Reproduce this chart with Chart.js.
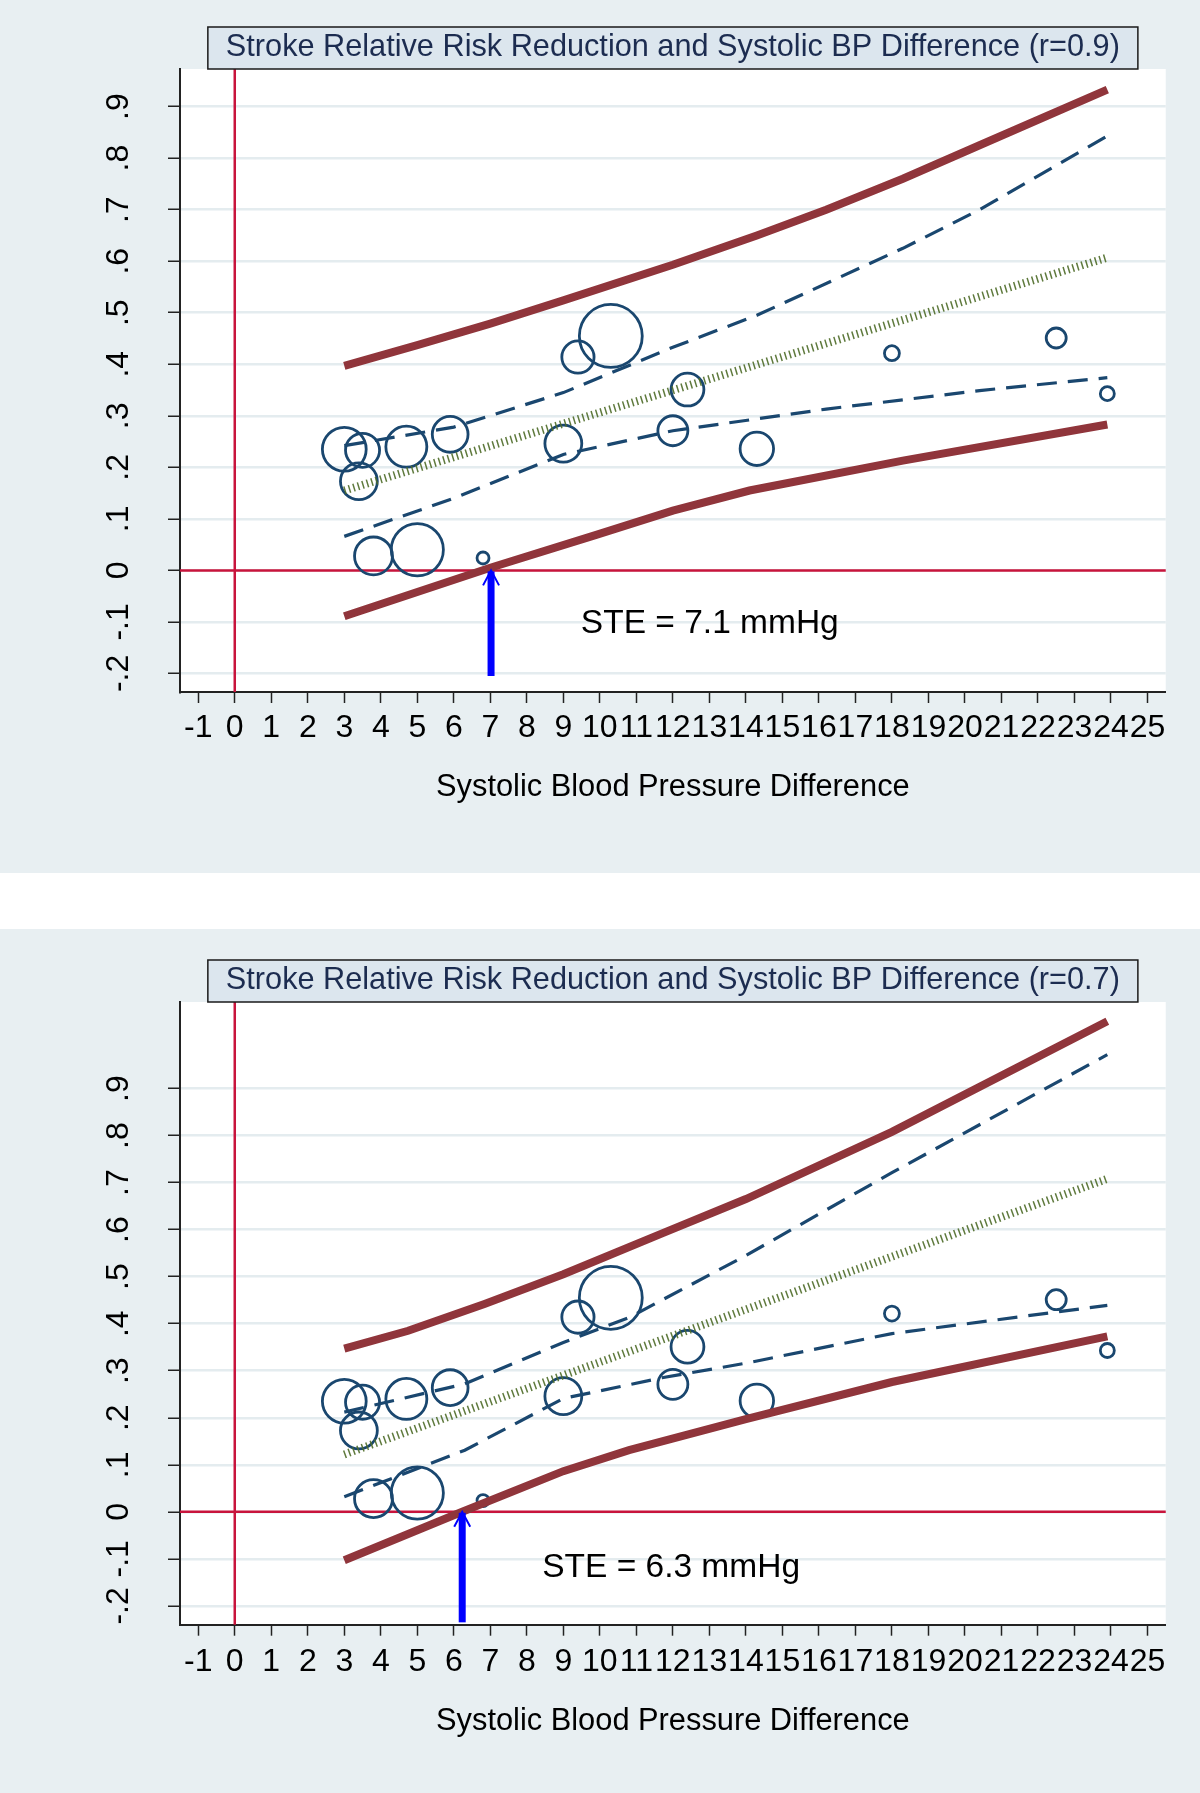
<!DOCTYPE html>
<html>
<head>
<meta charset="utf-8">
<script src="https://cdn.jsdelivr.net/npm/chart.js@4.4.1/dist/chart.umd.min.js"></script>
<style>
  html, body { margin: 0; padding: 0; background: #ffffff; }
  #wrap { position: relative; width: 1200px; height: 1793px; }
  canvas { position: absolute; left: 0; }
  #chartTop { top: 0; }
  #chartBottom { top: 929px; }
</style>
</head>
<body>
<div id="wrap">
  <canvas id="chartTop" width="1200" height="873"></canvas>
  <canvas id="chartBottom" width="1200" height="864"></canvas>
</div>
<script>
// trials (same points in both panels): SBP difference, relative risk reduction, weight
const studyBP     = [3.0, 3.5, 3.4, 4.7, 5.9, 9.0, 3.8, 5.0, 6.8, 9.4, 10.3, 12.4, 12.0, 18.0, 22.5, 23.9, 14.3];
const studyRRR    = [0.235, 0.233, 0.173, 0.240, 0.264, 0.246, 0.028, 0.040, 0.024, 0.414, 0.455, 0.351, 0.271, 0.4215, 0.451, 0.343, 0.236];
const studyWeight = [48, 29, 34, 42, 32, 34, 36, 68, 3.6, 26, 99, 27, 22.5, 5.6, 10, 4.9, 28];

// tick labels
const xTicks = [-1, 0, 1, 2, 3, 4, 5, 6, 7, 8, 9, 10, 11, 12, 13, 14, 15, 16, 17, 18, 19, 20, 21, 22, 23, 24, 25];
const yTicks = [-0.2, -0.1, 0, 0.1, 0.2, 0.3, 0.4, 0.5, 0.6, 0.7, 0.8, 0.9];

// top panel (r=0.9)
const topPredUpX = [3, 5, 7, 9, 12, 14.3, 16.2, 18.3, 20.4, 23.9];
const topPredUpY = [0.397, 0.437, 0.479, 0.524, 0.593, 0.650, 0.700, 0.760, 0.825, 0.933];
const topCiUpX   = [3, 6, 9, 12, 14.3, 18.3, 20.4, 23.9];
const topCiUpY   = [0.242, 0.278, 0.345, 0.433, 0.495, 0.625, 0.700, 0.843];
const topFitX    = [3, 23.9];
const topFitY    = [0.155, 0.607];
const topCiLoX   = [3, 6, 9, 12, 16.2, 20.4, 23.9];
const topCiLoY   = [0.066, 0.140, 0.225, 0.271, 0.313, 0.349, 0.374];
const topPredLoX = [3, 7, 9.9, 12, 14.1, 18.3, 23.9];
const topPredLoY = [-0.089, 0.005, 0.069, 0.116, 0.155, 0.213, 0.283];

// bottom panel (r=0.7)
const botPredUpX = [3, 4.75, 6.84, 9, 11.74, 14, 18, 23.9];
const botPredUpY = [0.347, 0.385, 0.442, 0.505, 0.593, 0.665, 0.808, 1.043];
const botCiUpX   = [3, 6.3, 9, 10.8, 14, 18, 23.9];
const botCiUpY   = [0.212, 0.272, 0.360, 0.413, 0.545, 0.721, 0.972];
const botFitX    = [3, 23.9];
const botFitY    = [0.122, 0.708];
const botCiLoX   = [3, 6.3, 9, 11.7, 14, 18, 23.9];
const botCiLoY   = [0.032, 0.131, 0.241, 0.285, 0.316, 0.379, 0.439];
const botPredLoX = [3, 6.23, 9, 10.8, 14, 18, 23.9];
const botPredLoY = [-0.103, 0, 0.0865, 0.131, 0.197, 0.276, 0.373];

// arrows and labels: [x, yFrom, yTo]
const topArrow = [7.02, -0.205, 0];
const botArrow = [6.23, -0.235, 0];
const topSte = [9.48, -0.103];
const botSte = [8.42, -0.12];

const FONT = '"Liberation Sans", Arial, Helvetica, sans-serif';
const BG = '#e8eff2';
const NAVY = '#1a476f';
const MAROON = '#90353b';

function fmtY(v) {
  if (Math.abs(v) < 1e-9) return '0';
  return String(Math.round(v * 10) / 10).replace('0.', '.');
}

function pts(xs, ys) {
  return xs.map((v, i) => ({x: v, y: ys[i]}));
}

const panelPlugin = {
  id: 'panel',
  beforeDraw(chart) {
    const {ctx, chartArea: a} = chart;
    ctx.save();
    ctx.fillStyle = BG;
    ctx.fillRect(0, 0, chart.width, chart.height);
    ctx.fillStyle = '#ffffff';
    ctx.fillRect(a.left, a.top, a.right - a.left, a.bottom - a.top);
    ctx.restore();
  },
  beforeDatasetsDraw(chart) {
    // reference lines at x=0 and y=0
    const {ctx, chartArea: a, scales} = chart;
    const px = scales.x.getPixelForValue(0);
    const py = scales.y.getPixelForValue(0);
    ctx.save();
    ctx.strokeStyle = '#c8143c';
    ctx.lineWidth = 2.5;
    ctx.beginPath();
    ctx.moveTo(px, a.top); ctx.lineTo(px, a.bottom);
    ctx.moveTo(a.left, py); ctx.lineTo(a.right, py);
    ctx.stroke();
    ctx.restore();
  },
  afterDatasetsDraw(chart, args, opts) {
    const {ctx, scales} = chart;
    const ax = scales.x.getPixelForValue(opts.arrow[0]);
    const y0 = scales.y.getPixelForValue(opts.arrow[1]);
    const y1 = scales.y.getPixelForValue(opts.arrow[2]);
    ctx.save();
    ctx.strokeStyle = '#0000ff';
    ctx.lineWidth = 7;
    ctx.beginPath();
    ctx.moveTo(ax, y0); ctx.lineTo(ax, y1 + 1);
    ctx.stroke();
    ctx.lineWidth = 2;
    ctx.beginPath();
    ctx.moveTo(ax - 8, y1 + 15); ctx.lineTo(ax, y1); ctx.lineTo(ax + 8, y1 + 15);
    ctx.stroke();
    // STE label
    ctx.fillStyle = '#000000';
    ctx.font = '33.5px ' + FONT;
    ctx.textAlign = 'left';
    ctx.textBaseline = 'middle';
    ctx.fillText(opts.steText, scales.x.getPixelForValue(opts.ste[0]), scales.y.getPixelForValue(opts.ste[1]));
    ctx.restore();
  },
  afterDraw(chart, args, opts) {
    // boxed title
    const {ctx, chartArea: a} = chart;
    ctx.save();
    ctx.font = '30.7px ' + FONT;
    const tw = ctx.measureText(opts.title).width;
    const cx = (a.left + a.right) / 2;
    const bw = tw + 36, bh = 42;
    ctx.fillStyle = '#dce6ee';
    ctx.fillRect(cx - bw / 2, a.top - bh, bw, bh);
    ctx.strokeStyle = '#1a1a1a';
    ctx.lineWidth = 1.5;
    ctx.strokeRect(cx - bw / 2, a.top - bh, bw, bh);
    ctx.fillStyle = '#1c2c50';
    ctx.textAlign = 'center';
    ctx.textBaseline = 'middle';
    ctx.fillText(opts.title, cx, a.top - bh / 2);
    ctx.restore();
  }
};

function makeChart(id, p) {
  const datasets = [
    {type: 'line', data: pts(p.predUpX, p.predUpY), borderColor: MAROON, borderWidth: 8},
    {type: 'line', data: pts(p.predLoX, p.predLoY), borderColor: MAROON, borderWidth: 8},
    {type: 'line', data: pts(p.ciUpX, p.ciUpY), borderColor: NAVY, borderWidth: 3.2, borderDash: [20, 11]},
    {type: 'line', data: pts(p.ciLoX, p.ciLoY), borderColor: NAVY, borderWidth: 3.2, borderDash: [20, 11]},
    {type: 'line', data: pts(p.fitX, p.fitY), borderColor: 'rgba(78,108,40,0.9)', borderWidth: 8, borderDash: [1.5, 3.2]},
    {
      type: 'bubble',
      data: studyBP.map((v, i) => ({x: v, y: studyRRR[i], r: Math.sqrt(studyWeight[i] * 10)})),
      backgroundColor: 'rgba(0,0,0,0)',
      borderColor: NAVY,
      borderWidth: 2.8
    }
  ];
  datasets.forEach(d => {
    if (d.type === 'line') {
      d.pointRadius = 0;
      d.tension = 0;
      d.fill = false;
    }
  });

  return new Chart(document.getElementById(id), {
    type: 'scatter',
    data: {datasets: datasets},
    options: {
      responsive: false,
      animation: false,
      devicePixelRatio: 1,
      events: [],
      layout: {padding: {top: p.padTop, right: 27, left: 0, bottom: 0}},
      plugins: {
        legend: {display: false},
        tooltip: {enabled: false},
        panel: {title: p.title, arrow: p.arrow, ste: p.ste, steText: p.steText}
      },
      scales: {
        x: {
          type: 'linear',
          min: -1.5,
          max: 25.5,
          afterBuildTicks: s => { s.ticks = xTicks.map(v => ({value: v})); },
          afterFit: s => { s.height = p.xAxisHeight; },
          ticks: {
            autoSkip: false, minRotation: 0, maxRotation: 0, padding: p.xTickPad,
            color: '#000000', font: {family: FONT, size: 32},
            callback: v => String(v)
          },
          grid: {drawOnChartArea: false, drawTicks: true, tickLength: 11, tickColor: '#222222', tickWidth: 1.5},
          border: {display: true, color: '#222222', width: 2},
          title: {
            display: true, text: 'Systolic Blood Pressure Difference', color: '#000000',
            font: {family: FONT, size: 30.8}, padding: {top: 0, bottom: p.xTitlePad}
          }
        },
        y: {
          type: 'linear',
          min: p.yMin,
          max: p.yMax,
          afterBuildTicks: s => { s.ticks = yTicks.map(v => ({value: v})); },
          afterFit: s => { s.width = 180; },
          ticks: {
            autoSkip: false, minRotation: 90, maxRotation: 90, crossAlign: 'center', padding: 30,
            color: '#000000', font: {family: FONT, size: 32},
            callback: fmtY
          },
          grid: {color: '#e4ecef', lineWidth: 2.5, drawTicks: true, tickLength: 12, tickColor: '#222222', tickWidth: 1.5},
          border: {display: true, color: '#222222', width: 2}
        }
      }
    },
    plugins: [panelPlugin]
  });
}

const topChart = makeChart('chartTop', {
  title: 'Stroke Relative Risk Reduction and Systolic BP Difference (r=0.9)',
  yMin: -0.236, yMax: 0.973,
  padTop: 69, xAxisHeight: 181, xTickPad: 6.4, xTitlePad: 67,
  predUpX: topPredUpX, predUpY: topPredUpY,
  ciUpX: topCiUpX, ciUpY: topCiUpY,
  fitX: topFitX, fitY: topFitY,
  ciLoX: topCiLoX, ciLoY: topCiLoY,
  predLoX: topPredLoX, predLoY: topPredLoY,
  arrow: topArrow, ste: topSte, steText: 'STE = 7.1 mmHg'
});

const bottomChart = makeChart('chartBottom', {
  title: 'Stroke Relative Risk Reduction and Systolic BP Difference (r=0.7)',
  yMin: -0.240, yMax: 1.084,
  padTop: 73, xAxisHeight: 168.3, xTickPad: 7.4, xTitlePad: 53.3,
  predUpX: botPredUpX, predUpY: botPredUpY,
  ciUpX: botCiUpX, ciUpY: botCiUpY,
  fitX: botFitX, fitY: botFitY,
  ciLoX: botCiLoX, ciLoY: botCiLoY,
  predLoX: botPredLoX, predLoY: botPredLoY,
  arrow: botArrow, ste: botSte, steText: 'STE = 6.3 mmHg'
});
</script>
</body>
</html>
